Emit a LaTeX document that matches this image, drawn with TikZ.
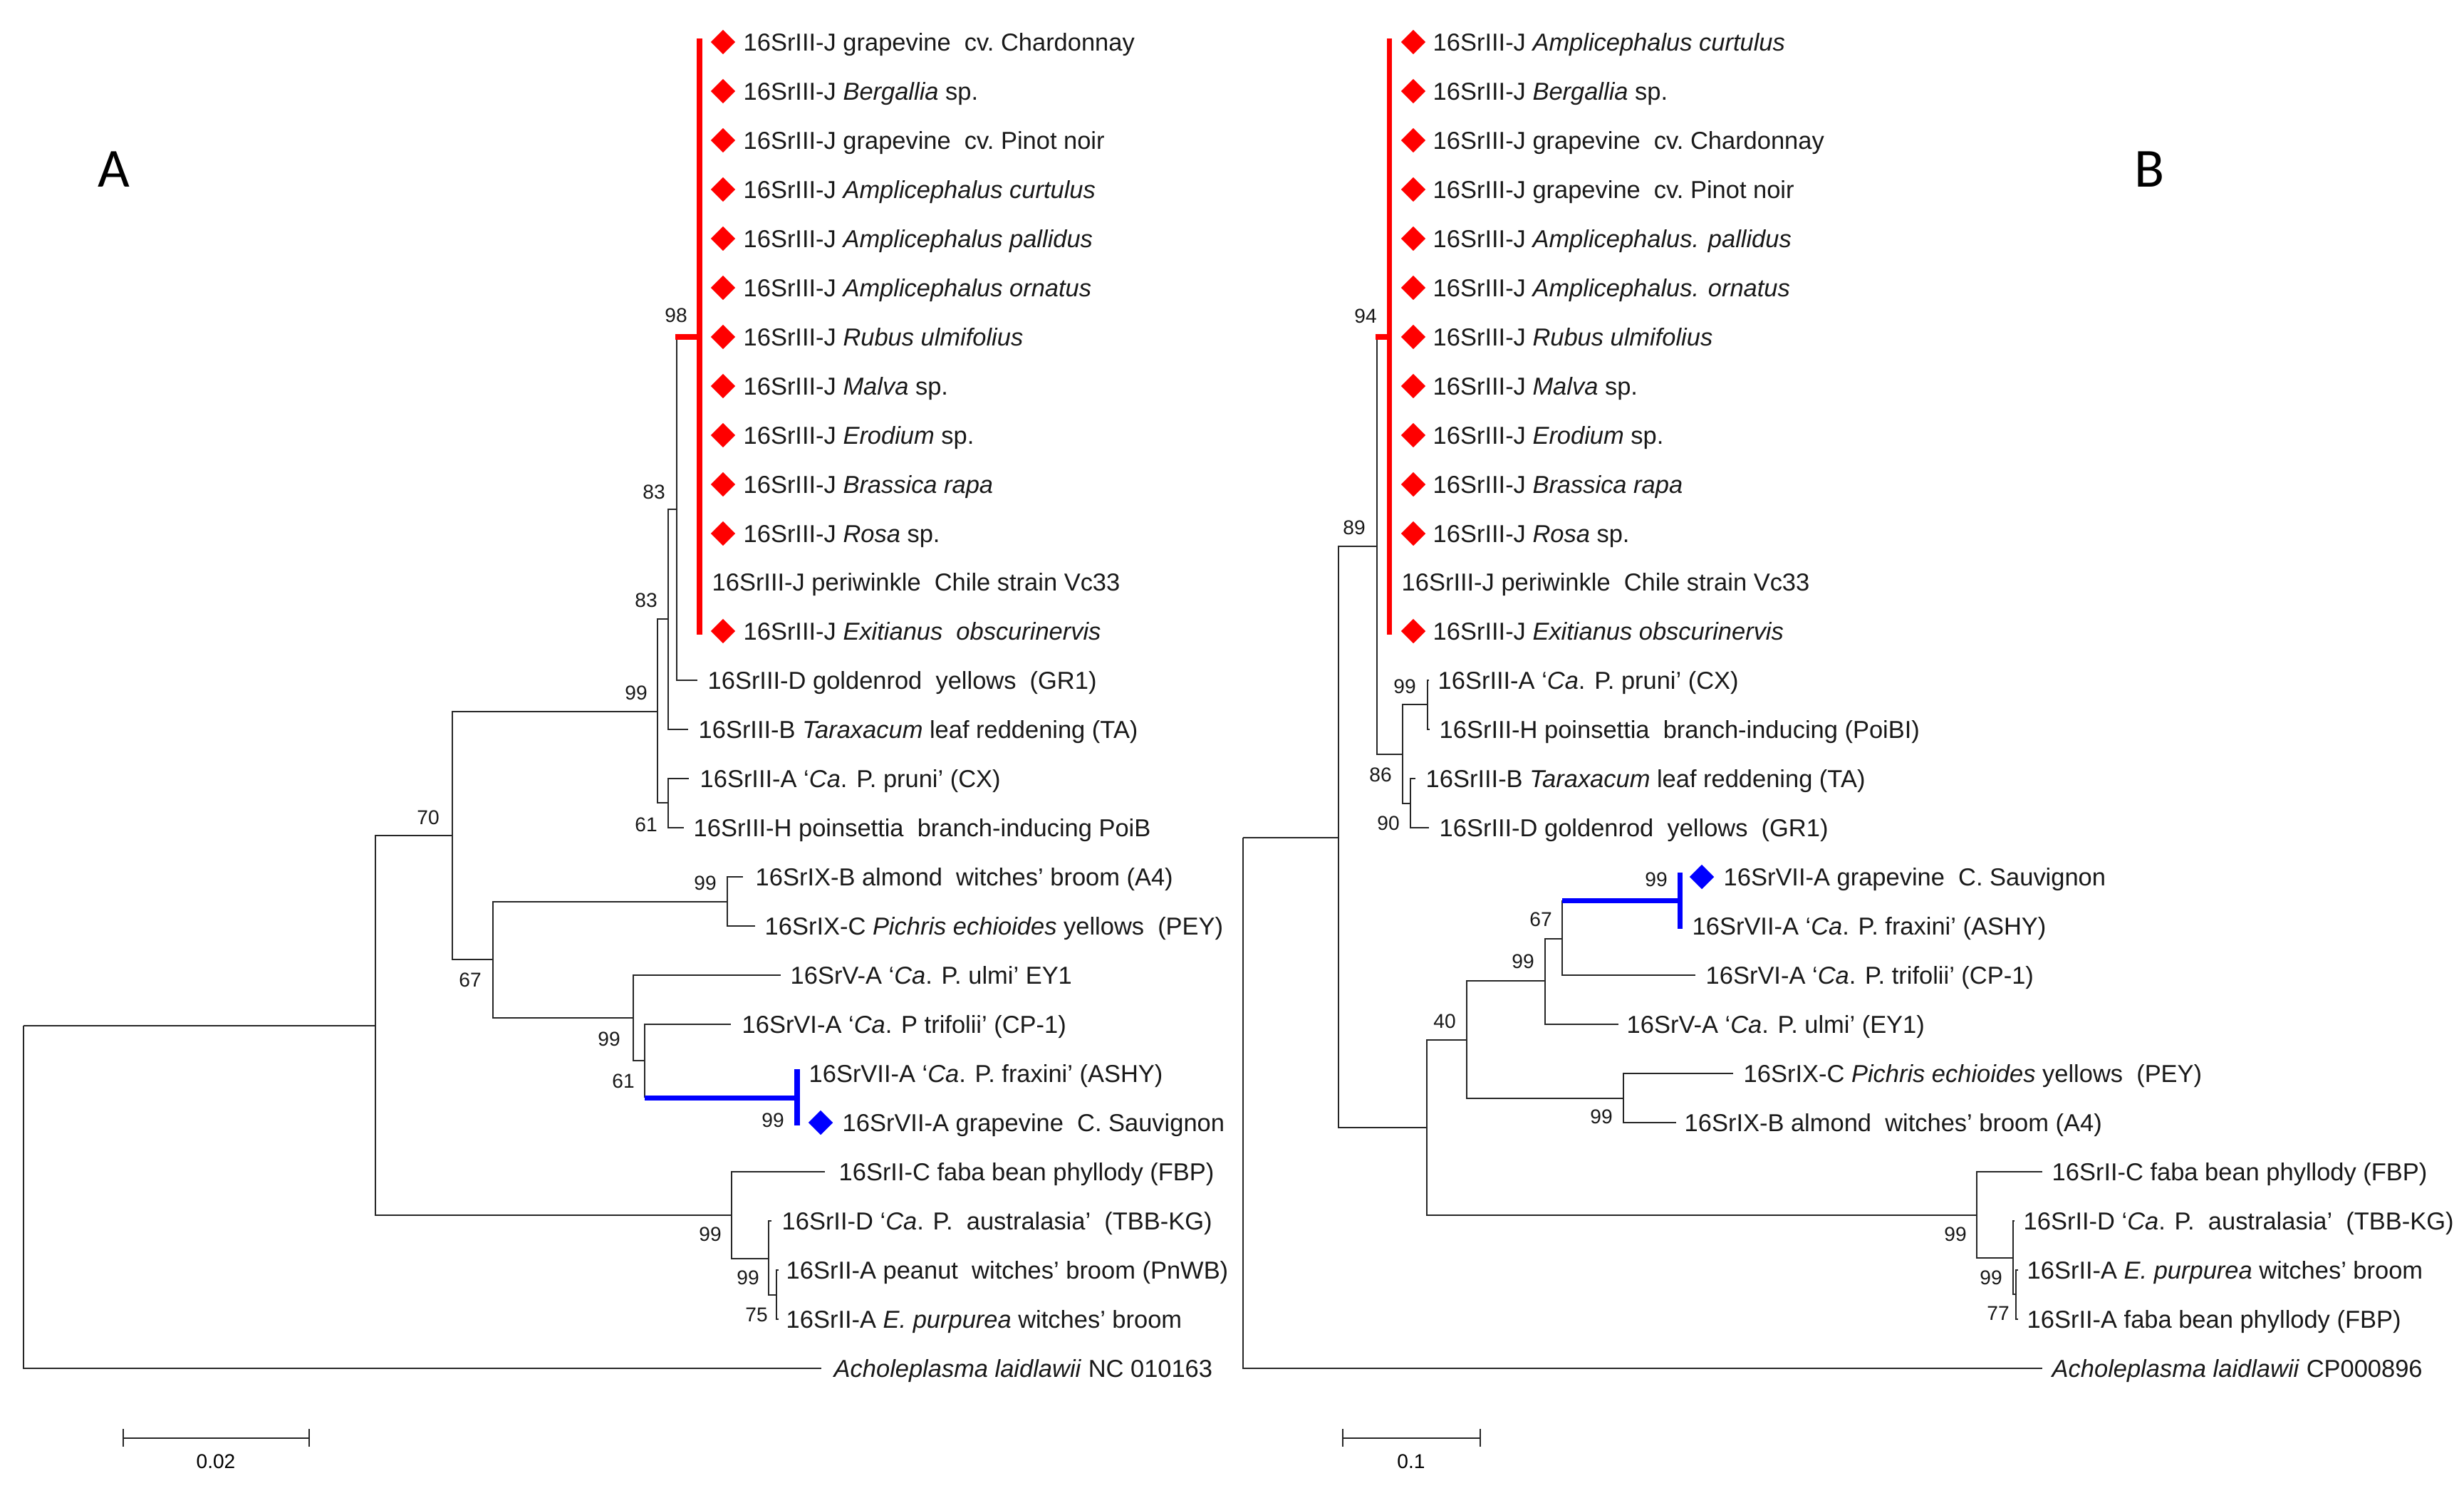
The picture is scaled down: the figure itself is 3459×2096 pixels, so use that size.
\documentclass[tikz,border=0pt]{standalone}
\usepackage{fontspec}
\setmainfont{Liberation Sans}
\newfontfamily\panelfont{Carlito}
\usetikzlibrary{shapes.geometric}
\definecolor{cladeRed}{RGB}{255,0,0}
\definecolor{cladeBlue}{RGB}{0,0,255}
\newcommand\tipfont{\fontsize{9.8}{11}\selectfont}
\newcommand\bsfont{\fontsize{8}{9}\selectfont}
\tikzset{
  br/.style={line width=0.75pt, black!85},
  redline/.style={line width=2pt, cladeRed},
  blueline/.style={line width=2pt, cladeBlue},
  tip/.style={anchor=west, inner sep=0pt, font=\tipfont, text height=7pt, text depth=0pt, text=black!90},
  bs/.style={anchor=center, inner sep=0pt, font=\bsfont, text height=5.7pt, text depth=0pt, text=black!90},
  rdia/.style={diamond, fill=cladeRed, inner sep=0pt, minimum width=0.35cm, minimum height=0.35cm},
  bdia/.style={diamond, fill=cladeBlue, inner sep=0pt, minimum width=0.35cm, minimum height=0.35cm},
  panel/.style={inner sep=0pt, font=\panelfont\fontsize{22}{24}\selectfont},
  scl/.style={anchor=center, inner sep=0pt, font=\bsfont}
}
\begin{document}
\begin{tikzpicture}[x=0.01cm, y=-0.01cm]
\useasboundingbox[fill=white] (0,0) rectangle (3459,2096);

% ================= PANEL A =================
\node[panel] (labA) at (160,238) {A};
% internal nodes
\coordinate (rA) at (33,1440);
\coordinate (a1) at (527,1440);
\coordinate (a2) at (635,1173);
\coordinate (a3) at (923,999);
\coordinate (a4) at (938,869);
\coordinate (a5) at (950,715);
\coordinate (jA) at (982,473);
\coordinate (jAtop) at (982,54);
\coordinate (jAbot) at (982,891);
\coordinate (a6) at (938,1127);
\coordinate (a7) at (692,1347);
\coordinate (a8) at (1021,1266);
\coordinate (a9) at (889,1429);
\coordinate (a10) at (905,1489);
\coordinate (bA) at (1119,1541);
\coordinate (bAtop) at (1119,1501);
\coordinate (bAbot) at (1119,1580);
\coordinate (a12) at (1027,1706);
\coordinate (a13) at (1079,1767);
\coordinate (a14) at (1090,1818);
% tips
\coordinate (tA13) at (979,955);
\coordinate (tA14) at (966,1024);
\coordinate (tA15) at (967,1093);
\coordinate (tA16) at (960,1162);
\coordinate (tA17) at (1043,1231);
\coordinate (tA18) at (1060,1300);
\coordinate (tA19) at (1096,1369);
\coordinate (tA20) at (1026,1438);
\coordinate (tA23) at (1158,1645);
\coordinate (tA24) at (1083,1714);
\coordinate (tA25) at (1093,1783);
\coordinate (tA26) at (1093,1852);
\coordinate (tA27) at (1153,1921);
% branches
\draw[br] (rA) |- (a1);
\draw[br] (rA) |- (tA27);
\draw[br] (a1) |- (a2);
\draw[br] (a1) |- (a12);
\draw[br] (a2) |- (a3);
\draw[br] (a2) |- (a7);
\draw[br] (a3) |- (a4);
\draw[br] (a3) |- (a6);
\draw[br] (a4) |- (a5);
\draw[br] (a4) |- (tA14);
\draw[br] (a5) -- (a5 |- jA);
\draw[br] (a5) |- (tA13);
\draw[redline] ([xshift=-0.02cm]a5 |- jA) -- (jA);
\draw[redline] (jAtop) -- (jAbot);
\draw[br] (a6) |- (tA15);
\draw[br] (a6) |- (tA16);
\draw[br] (a7) |- (a8);
\draw[br] (a7) |- (a9);
\draw[br] (a8) |- (tA17);
\draw[br] (a8) |- (tA18);
\draw[br] (a9) |- (tA19);
\draw[br] (a9) |- (a10);
\draw[br] (a10) |- (tA20);
\draw[br] (a10) -- (a10 |- bA);
\draw[blueline] (a10 |- bA) -- (bA);
\draw[blueline] (bAtop) -- (bAbot);
\draw[br] (a12) |- (tA23);
\draw[br] (a12) |- (a13);
\draw[br] (a13) |- (tA24);
\draw[br] (a13) |- (a14);
\draw[br] (a14) |- (tA25);
\draw[br] (a14) |- (tA26);
% diamonds
\foreach \r/\y in {0/59,1/128,2/197,3/266,4/335,5/404,6/473,7/542,8/611,9/680,10/749,12/886}{
  \node[rdia] (dA\r) at (1015,\y) {};
}
\node[bdia] (dA22) at (1152,1576) {};
% tip labels
\node[tip] (lA0) at (1043,59) {16SrIII-J grapevine\ \ cv.\ Chardonnay};
\node[tip] (lA1) at (1043,128) {16SrIII-J \textit{Bergallia} sp.};
\node[tip] (lA2) at (1043,197) {16SrIII-J grapevine\ \ cv.\ Pinot noir};
\node[tip] (lA3) at (1043,266) {16SrIII-J \textit{Amplicephalus curtulus}};
\node[tip] (lA4) at (1043,335) {16SrIII-J \textit{Amplicephalus pallidus}};
\node[tip] (lA5) at (1043,404) {16SrIII-J \textit{Amplicephalus ornatus}};
\node[tip] (lA6) at (1043,473) {16SrIII-J \textit{Rubus ulmifolius}};
\node[tip] (lA7) at (1043,542) {16SrIII-J \textit{Malva} sp.};
\node[tip] (lA8) at (1043,611) {16SrIII-J \textit{Erodium} sp.};
\node[tip] (lA9) at (1043,680) {16SrIII-J \textit{Brassica rapa}};
\node[tip] (lA10) at (1043,749) {16SrIII-J \textit{Rosa} sp.};
\node[tip] (lA11) at (999,817) {16SrIII-J periwinkle\ \ Chile strain Vc33};
\node[tip] (lA12) at (1043,886) {16SrIII-J \textit{Exitianus\ \ obscurinervis}};
\node[tip] (lA13) at (993,955) {16SrIII-D goldenrod\ \ yellows\ \ (GR1)};
\node[tip] (lA14) at (980,1024) {16SrIII-B \textit{Taraxacum} leaf reddening (TA)};
\node[tip] (lA15) at (982,1093) {16SrIII-A ‘\textit{Ca}. P. pruni’ (CX)};
\node[tip] (lA16) at (973,1162) {16SrIII-H poinsettia\ \ branch-inducing PoiB};
\node[tip] (lA17) at (1060,1231) {16SrIX-B almond\ \ witches’ broom (A4)};
\node[tip] (lA18) at (1073,1300) {16SrIX-C \textit{Pichris echioides} yellows\ \ (PEY)};
\node[tip] (lA19) at (1109,1369) {16SrV-A ‘\textit{Ca}. P. ulmi’ EY1};
\node[tip] (lA20) at (1041,1438) {16SrVI-A ‘\textit{Ca}. P trifolii’ (CP-1)};
\node[tip] (lA21) at (1135,1507) {16SrVII-A ‘\textit{Ca}. P. fraxini’ (ASHY)};
\node[tip] (lA22) at (1182,1576) {16SrVII-A grapevine\ \ C. Sauvignon};
\node[tip] (lA23) at (1177,1645) {16SrII-C faba bean phyllody (FBP)};
\node[tip] (lA24) at (1097,1714) {16SrII-D ‘\textit{Ca}. P.\ \ australasia’\ \ (TBB-KG)};
\node[tip] (lA25) at (1103,1783) {16SrII-A peanut\ \ witches’ broom (PnWB)};
\node[tip] (lA26) at (1103,1852) {16SrII-A \textit{E. purpurea} witches’ broom};
\node[tip] (lA27) at (1170,1921) {\textit{Acholeplasma laidlawii} NC 010163};
% bootstrap values
\node[bs] (sA1) at (949,442) {98};
\node[bs] (sA2) at (918,690) {83};
\node[bs] (sA3) at (907,842) {83};
\node[bs] (sA4) at (893,972) {99};
\node[bs] (sA5) at (907,1157) {61};
\node[bs] (sA6) at (601,1147) {70};
\node[bs] (sA7) at (990,1239) {99};
\node[bs] (sA8) at (660,1375) {67};
\node[bs] (sA9) at (855,1458) {99};
\node[bs] (sA10) at (875,1517) {61};
\node[bs] (sA11) at (1085,1572) {99};
\node[bs] (sA12) at (997,1732) {99};
\node[bs] (sA13) at (1050,1793) {99};
\node[bs] (sA14) at (1062,1845) {75};
% scale bar
\coordinate (sbA1) at (173,2019);
\coordinate (sbA2) at (434,2019);
\draw[br] (sbA1) -- (sbA2);
\draw[br] ([yshift=0.13cm]sbA1) -- ([yshift=-0.12cm]sbA1);
\draw[br] ([yshift=0.13cm]sbA2) -- ([yshift=-0.12cm]sbA2);
\node[scl] (sbAl) at (303,2052) {0.02};

% ================= PANEL B =================
\node[panel] (labB) at (3018,238) {B};
\coordinate (rB) at (1745,1176);
\coordinate (b1) at (1879,1176);
\coordinate (b2) at (1933,767);
\coordinate (jB) at (1950,473);
\coordinate (jBtop) at (1950,54);
\coordinate (jBbot) at (1950,891);
\coordinate (b3) at (1969,1059);
\coordinate (b4) at (2004,989);
\coordinate (b5) at (1980,1128);
\coordinate (b6) at (2003,1583);
\coordinate (b7) at (2059,1460);
\coordinate (b8) at (2169,1377);
\coordinate (b9) at (2193,1318);
\coordinate (bB) at (2358,1264);
\coordinate (bBtop) at (2358,1225);
\coordinate (bBbot) at (2358,1304);
\coordinate (b10) at (2279,1542);
\coordinate (b11) at (2775,1706);
\coordinate (b12) at (2826,1766);
\coordinate (b13) at (2830,1817);
% tips
\coordinate (tB13) at (2006,955);
\coordinate (tB14) at (2007,1024);
\coordinate (tB15) at (1987,1093);
\coordinate (tB16) at (2006,1162);
\coordinate (tB19) at (2380,1369);
\coordinate (tB20) at (2272,1438);
\coordinate (tB21) at (2433,1507);
\coordinate (tB22) at (2353,1576);
\coordinate (tB23) at (2867,1645);
\coordinate (tB24) at (2828,1714);
\coordinate (tB25) at (2833,1783);
\coordinate (tB26) at (2833,1852);
\coordinate (tB27) at (2867,1921);
% branches
\draw[br] (rB) |- (b1);
\draw[br] (rB) |- (tB27);
\draw[br] (b1) |- (b2);
\draw[br] (b1) |- (b6);
\draw[br] (b2) -- (b2 |- jB);
\draw[redline] ([xshift=-0.02cm]b2 |- jB) -- (jB);
\draw[redline] (jBtop) -- (jBbot);
\draw[br] (b2) |- (b3);
\draw[br] (b3) |- (b4);
\draw[br] (b3) |- (b5);
\draw[br] (b4) |- (tB13);
\draw[br] (b4) |- (tB14);
\draw[br] (b5) |- (tB15);
\draw[br] (b5) |- (tB16);
\draw[br] (b6) |- (b7);
\draw[br] (b6) |- (b11);
\draw[br] (b7) |- (b8);
\draw[br] (b7) |- (b10);
\draw[br] (b8) |- (b9);
\draw[br] (b8) |- (tB20);
\draw[br] (b9) -- (b9 |- bB);
\draw[blueline] (b9 |- bB) -- (bB);
\draw[blueline] (bBtop) -- (bBbot);
\draw[br] (b9) |- (tB19);
\draw[br] (b10) |- (tB21);
\draw[br] (b10) |- (tB22);
\draw[br] (b11) |- (tB23);
\draw[br] (b11) |- (b12);
\draw[br] (b12) |- (tB24);
\draw[br] (b12) |- (b13);
\draw[br] (b13) |- (tB25);
\draw[br] (b13) |- (tB26);
% diamonds
\foreach \r/\y in {0/59,1/128,2/197,3/266,4/335,5/404,6/473,7/542,8/611,9/680,10/749,12/886}{
  \node[rdia] (dB\r) at (1984,\y) {};
}
\node[bdia] (dB17) at (2389,1231) {};
% tip labels
\node[tip] (lB0) at (2011,59) {16SrIII-J \textit{Amplicephalus curtulus}};
\node[tip] (lB1) at (2011,128) {16SrIII-J \textit{Bergallia} sp.};
\node[tip] (lB2) at (2011,197) {16SrIII-J grapevine\ \ cv.\ Chardonnay};
\node[tip] (lB3) at (2011,266) {16SrIII-J grapevine\ \ cv.\ Pinot noir};
\node[tip] (lB4) at (2011,335) {16SrIII-J \textit{Amplicephalus. pallidus}};
\node[tip] (lB5) at (2011,404) {16SrIII-J \textit{Amplicephalus. ornatus}};
\node[tip] (lB6) at (2011,473) {16SrIII-J \textit{Rubus ulmifolius}};
\node[tip] (lB7) at (2011,542) {16SrIII-J \textit{Malva} sp.};
\node[tip] (lB8) at (2011,611) {16SrIII-J \textit{Erodium} sp.};
\node[tip] (lB9) at (2011,680) {16SrIII-J \textit{Brassica rapa}};
\node[tip] (lB10) at (2011,749) {16SrIII-J \textit{Rosa} sp.};
\node[tip] (lB11) at (1967,817) {16SrIII-J periwinkle\ \ Chile strain Vc33};
\node[tip] (lB12) at (2011,886) {16SrIII-J \textit{Exitianus obscurinervis}};
\node[tip] (lB13) at (2018,955) {16SrIII-A ‘\textit{Ca}. P. pruni’ (CX)};
\node[tip] (lB14) at (2020,1024) {16SrIII-H poinsettia\ \ branch-inducing (PoiBI)};
\node[tip] (lB15) at (2001,1093) {16SrIII-B \textit{Taraxacum} leaf reddening (TA)};
\node[tip] (lB16) at (2020,1162) {16SrIII-D goldenrod\ \ yellows\ \ (GR1)};
\node[tip] (lB17) at (2419,1231) {16SrVII-A grapevine\ \ C. Sauvignon};
\node[tip] (lB18) at (2375,1300) {16SrVII-A ‘\textit{Ca}. P. fraxini’ (ASHY)};
\node[tip] (lB19) at (2394,1369) {16SrVI-A ‘\textit{Ca}. P. trifolii’ (CP-1)};
\node[tip] (lB20) at (2283,1438) {16SrV-A ‘\textit{Ca}. P. ulmi’ (EY1)};
\node[tip] (lB21) at (2447,1507) {16SrIX-C \textit{Pichris echioides} yellows\ \ (PEY)};
\node[tip] (lB22) at (2364,1576) {16SrIX-B almond\ \ witches’ broom (A4)};
\node[tip] (lB23) at (2880,1645) {16SrII-C faba bean phyllody (FBP)};
\node[tip] (lB24) at (2840,1714) {16SrII-D ‘\textit{Ca}. P.\ \ australasia’\ \ (TBB-KG)};
\node[tip] (lB25) at (2845,1783) {16SrII-A \textit{E. purpurea} witches’ broom};
\node[tip] (lB26) at (2845,1852) {16SrII-A faba bean phyllody (FBP)};
\node[tip] (lB27) at (2880,1921) {\textit{Acholeplasma laidlawii} CP000896};
% bootstrap values
\node[bs] (sB1) at (1917,443) {94};
\node[bs] (sB2) at (1901,740) {89};
\node[bs] (sB3) at (1972,963) {99};
\node[bs] (sB4) at (1938,1087) {86};
\node[bs] (sB5) at (1949,1155) {90};
\node[bs] (sB6) at (2325,1234) {99};
\node[bs] (sB7) at (2163,1290) {67};
\node[bs] (sB8) at (2138,1349) {99};
\node[bs] (sB9) at (2028,1433) {40};
\node[bs] (sB10) at (2248,1567) {99};
\node[bs] (sB11) at (2745,1732) {99};
\node[bs] (sB12) at (2795,1793) {99};
\node[bs] (sB13) at (2805,1843) {77};
% scale bar
\coordinate (sbB1) at (1885,2019);
\coordinate (sbB2) at (2078,2019);
\draw[br] (sbB1) -- (sbB2);
\draw[br] ([yshift=0.13cm]sbB1) -- ([yshift=-0.12cm]sbB1);
\draw[br] ([yshift=0.13cm]sbB2) -- ([yshift=-0.12cm]sbB2);
\node[scl] (sbBl) at (1981,2052) {0.1};
\end{tikzpicture}
\end{document}
